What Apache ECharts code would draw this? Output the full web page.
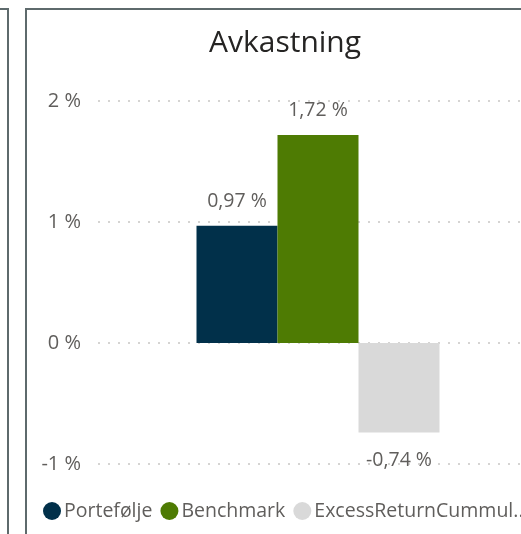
<!DOCTYPE html>
<html>
<head>
<meta charset="utf-8">
<script src="https://cdn.jsdelivr.net/npm/echarts@6/dist/echarts.min.js"></script>
<style>
  html, body { margin: 0; padding: 0; background: #fff; overflow: hidden; }
  #wrap { position: relative; width: 521px; height: 534px; overflow: hidden; }
  .panel { position: absolute; border: 2px solid #5e6a6c; box-sizing: border-box; }
  #chart { position: absolute; left: 0; top: 0; width: 560px; height: 534px; }
</style>
</head>
<body>
<div id="wrap">
  <div class="panel" style="left:-100px; top:8px; width:109px; height:600px;"></div>
  <div class="panel" style="left:25px; top:8px; width:600px; height:600px;"></div>
  <div id="chart"></div>
</div>
<script>
  // data
  const categories = ['']
  const seriesNames = ['Portefølje', 'Benchmark', 'ExcessReturnCummul..']
  const seriesValues = [[0.97], [1.72], [-0.74]]
  const seriesColors = ['#01304a', '#4e7b03', '#d9d9d9']
  const yTicks = [-1, 0, 1, 2]

  const fontFamily = '"Open Sans", "Noto Sans", sans-serif'
  const textGray = '#605e5c'

  const fmt = v => v.toFixed(2).replace('.', ',') + ' %'

  const chart = echarts.init(document.getElementById('chart'), null, { renderer: 'canvas' })

  const option = {
    animation: false,
    title: {
      text: 'Avkastning',
      left: 204,
      top: 23,
      textStyle: {
        fontFamily: fontFamily,
        fontSize: 30,
        fontWeight: 'normal',
        color: '#252423'
      }
    },
    legend: {
      data: seriesNames,
      left: 38,
      top: 496,
      icon: 'circle',
      itemWidth: 18,
      itemHeight: 18,
      itemGap: 8,
      textStyle: {
        fontFamily: fontFamily,
        fontSize: 19.5,
        color: textGray,
        padding: [0, 0, 0, -2]
      }
    },
    grid: {
      left: 98,
      right: 22,
      top: 101,
      bottom: 70,
      containLabel: false
    },
    xAxis: {
      type: 'category',
      data: categories,
      axisLine: { show: false },
      axisTick: { show: false },
      axisLabel: { show: false }
    },
    yAxis: {
      type: 'value',
      min: yTicks[0],
      max: yTicks[yTicks.length - 1],
      interval: 1,
      axisLine: { show: false },
      axisTick: { show: false },
      axisLabel: {
        formatter: v => v + ' %',
        fontFamily: fontFamily,
        fontSize: 20,
        color: textGray,
        margin: 17
      },
      splitLine: {
        show: true,
        lineStyle: {
          type: [2, 8],
          color: '#c8c6c4',
          width: 1.5
        }
      }
    },
    series: seriesNames.map((name, i) => ({
      name: name,
      type: 'bar',
      barWidth: 81,
      barGap: '0%',
      itemStyle: { color: seriesColors[i] },
      data: seriesValues[i].map(v => ({
        value: v,
        label: {
          show: true,
          position: v < 0 ? 'bottom' : 'top',
          distance: v < 0 ? 18 : 14,
          formatter: p => fmt(p.value),
          fontFamily: fontFamily,
          fontSize: 19.5,
          color: textGray
        }
      }))
    }))
  }

  chart.setOption(option)
</script>
</body>
</html>
